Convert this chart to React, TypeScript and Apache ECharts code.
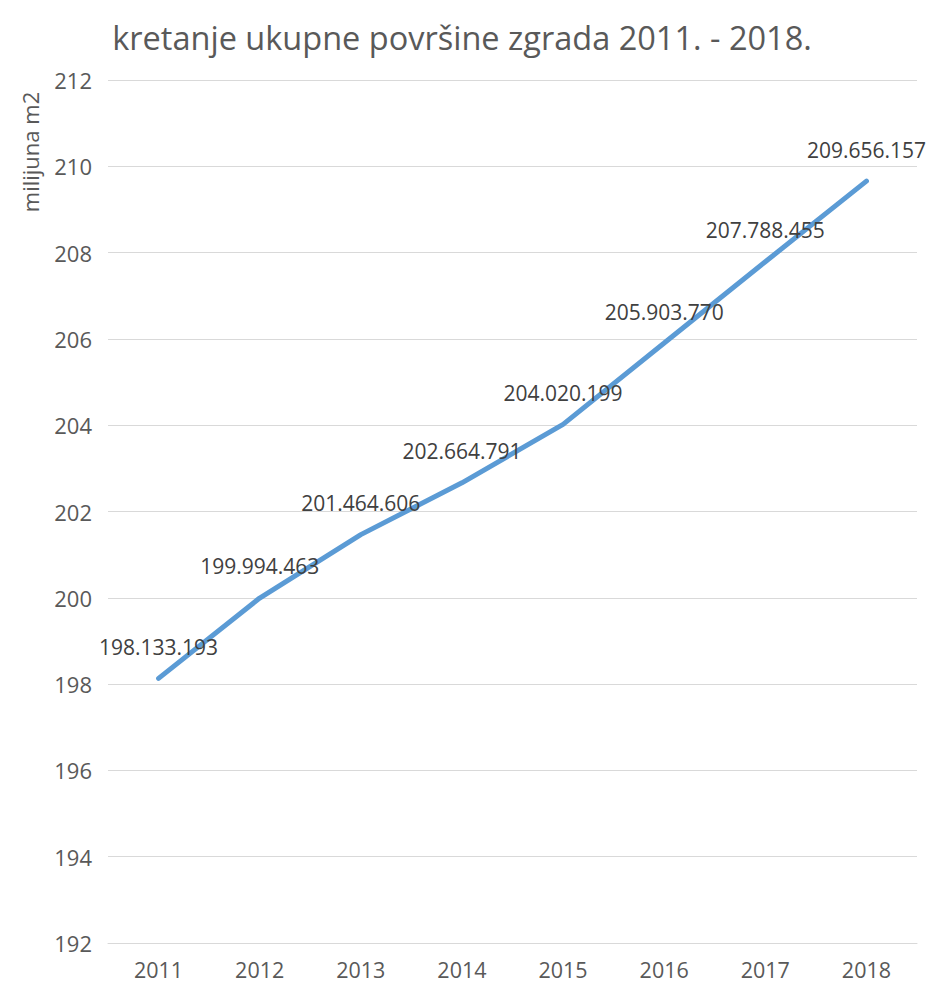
import React, { useEffect, useRef } from "react";
import * as echarts from "echarts";

const titleText = "kretanje ukupne površine zgrada 2011. - 2018.";
const yAxisName = "milijuna m2";
const years = ["2011", "2012", "2013", "2014", "2015", "2016", "2017", "2018"];
const areaM2 = [198133193, 199994463, 201464606, 202664791, 204020199, 205903770, 207788455, 209656157];
const yMin = 192;
const yMax = 212;
const yStep = 2;

const fmt = (v: number) => String(Math.round(v)).replace(/\B(?=(\d{3})+(?!\d))/g, ".");

export default function App() {
  const ref = useRef<HTMLDivElement>(null);
  useEffect(() => {
    if (!ref.current) return;
    const chart = echarts.init(ref.current, null, { renderer: "svg" });
    const font = "'Open Sans', sans-serif";
    chart.setOption({
      animation: false,
      backgroundColor: "#ffffff",
      textStyle: { fontFamily: font },
      title: {
        text: titleText,
        left: 457,
        top: 16,
        textAlign: "center",
        textStyle: { fontFamily: font, fontSize: 32.5, fontWeight: "normal", color: "#595959" },
      },
      graphic: [
        {
          type: "text",
          x: 30,
          y: 152,
          rotation: Math.PI / 2,
          style: {
            text: yAxisName,
            font: `22px ${font}`,
            fill: "#595959",
            textAlign: "center",
            textVerticalAlign: "middle",
          },
        },
      ],
      grid: { left: 108, right: 13, top: 80, bottom: 42, containLabel: false },
      xAxis: {
        type: "category",
        data: years,
        boundaryGap: true,
        axisLine: { lineStyle: { color: "#D9D9D9", width: 1 } },
        axisTick: { show: false },
        axisLabel: { color: "#595959", fontSize: 21.5, lineHeight: 22, margin: 15, fontFamily: font },
      },
      yAxis: {
        type: "value",
        min: yMin,
        max: yMax,
        interval: yStep,
        axisLine: { show: false },
        axisTick: { show: false },
        axisLabel: { color: "#595959", fontSize: 22, margin: 16, fontFamily: font },
        splitLine: { lineStyle: { color: "#D9D9D9", width: 1 } },
      },
      series: [
        {
          type: "line",
          data: areaM2.map((v) => v / 1e6),
          showSymbol: true,
          symbol: "circle",
          symbolSize: 0.1,
          lineStyle: { color: "#5B9BD5", width: 5, cap: "round" },
          itemStyle: { color: "#5B9BD5" },
          label: {
            show: true,
            position: "top",
            distance: 21,
            color: "#404040",
            fontSize: 21,
            fontFamily: font,
            formatter: (p: any) => fmt(areaM2[p.dataIndex]),
          },
        },
      ],
    });
    return () => chart.dispose();
  }, []);
  return (
    <div
      ref={ref}
      style={{ position: "fixed", left: 0, top: 0, width: 930, height: 985 }}
    />
  );
}
